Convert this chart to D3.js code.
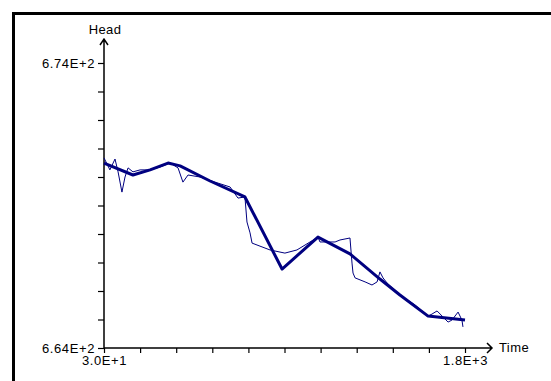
<!DOCTYPE html>
<html>
<head>
<meta charset="utf-8">
<script src="https://cdn.jsdelivr.net/npm/d3@7/dist/d3.min.js"></script>
<style>
  html, body { margin: 0; padding: 0; background: #fff; }
  svg { display: block; }
  text { font-family: "Liberation Sans", Arial, sans-serif; font-size: 13px; fill: #000; }
</style>
</head>
<body>
<svg id="chart" width="551" height="381"></svg>
<script>
// Observed head (thin trace)
const obsTime = [30, 59, 84, 99, 118, 133, 148, 172, 207, 256, 305, 354, 393, 417, 442, 501, 574, 648, 687, 721, 731, 746, 756, 844, 917, 976, 1079, 1089, 1163, 1187, 1236, 1246, 1251, 1261, 1310, 1344, 1369, 1383, 1398, 1418, 1481, 1555, 1619, 1638, 1663, 1692, 1717, 1736, 1766, 1785, 1790];
const obsHead = [670.67, 670.25, 670.63, 670.18, 669.47, 670.00, 670.32, 670.18, 670.25, 670.25, 670.35, 670.49, 670.32, 669.82, 670.07, 670.00, 669.82, 669.65, 669.26, 669.30, 668.42, 668.04, 667.68, 667.44, 667.33, 667.44, 667.89, 667.72, 667.72, 667.79, 667.86, 666.98, 666.63, 666.46, 666.32, 666.21, 666.32, 666.67, 666.46, 666.28, 665.86, 665.51, 665.12, 665.19, 665.30, 665.09, 664.91, 664.98, 665.26, 664.98, 664.74];

// Simulated head (thick trace)
const simTime = [30, 172, 256, 344, 403, 550, 721, 903, 1079, 1236, 1383, 1481, 1619, 1800];
const simHead = [670.49, 670.07, 670.25, 670.49, 670.39, 669.86, 669.30, 666.77, 667.89, 667.30, 666.42, 665.86, 665.12, 664.98];

// Axis extents and tick labels
const timeDomain = [30, 1800];
const headDomain = [664, 674];
const timeTickLabels = ["3.0E+1", "1.8E+3"];
const headTickLabels = ["6.64E+2", "6.74E+2"];
const xTitle = "Time";
const yTitle = "Head";

const svg = d3.select("#chart");
const color = "#000080";

// Outer frame
svg.append("rect")
  .attr("x", 13.5).attr("y", 13.5)
  .attr("width", 600).attr("height", 400)
  .attr("fill", "none").attr("stroke", "#000").attr("stroke-width", 3);

const x = d3.scaleLinear().domain(timeDomain).range([104, 465]);
const y = d3.scaleLinear().domain(headDomain).range([348, 63]);

const xTicks = d3.range(11).map(i => timeDomain[0] + i * (timeDomain[1] - timeDomain[0]) / 10);
const yTicks = d3.range(11).map(i => headDomain[0] + i * (headDomain[1] - headDomain[0]) / 10);

const xAxis = d3.axisBottom(x)
  .tickValues(xTicks)
  .tickSize(5).tickPadding(3)
  .tickFormat((d, i) => i === 0 ? timeTickLabels[0] : (i === xTicks.length - 1 ? timeTickLabels[1] : ""));
const yAxis = d3.axisLeft(y)
  .tickValues(yTicks)
  .tickSize(6).tickPadding(3)
  .tickFormat((d, i) => i === 0 ? headTickLabels[0] : (i === yTicks.length - 1 ? headTickLabels[1] : ""));

const gx = svg.append("g").attr("transform", `translate(0,${y(headDomain[0])})`).call(xAxis);
const gy = svg.append("g").attr("transform", `translate(${x(timeDomain[0])},0)`).call(yAxis);
[gx, gy].forEach(g => {
  g.select(".domain").remove();
  g.selectAll(".tick line").attr("stroke", "#000").attr("stroke-width", 1.2);
  g.selectAll(".tick text").attr("font-size", 13).attr("letter-spacing", "0.6px")
    .attr("font-family", "'Liberation Sans', Arial, sans-serif").attr("fill", "#000");
});

// Axis lines with open arrowheads
const x0 = x(timeDomain[0]), y0 = y(headDomain[0]);
const xEnd = 492, yEnd = 39;
svg.append("path")
  .attr("d", `M${x0},${y0}H${xEnd}M${xEnd - 5},${y0 - 5}L${xEnd},${y0}L${xEnd - 5},${y0 + 5}`)
  .attr("fill", "none").attr("stroke", "#000").attr("stroke-width", 1.5);
svg.append("path")
  .attr("d", `M${x0},${y0}V${yEnd}M${x0 - 4},${yEnd + 6}L${x0},${yEnd}L${x0 + 4},${yEnd + 6}`)
  .attr("fill", "none").attr("stroke", "#000").attr("stroke-width", 1.5);

svg.append("text").attr("x", xEnd + 7).attr("y", y0 + 4).attr("letter-spacing", "0.4px").text(xTitle);
svg.append("text").attr("x", x0 + 1).attr("y", 34).attr("text-anchor", "middle").attr("letter-spacing", "0.4px").text(yTitle);

const line = d3.line().x(d => x(d[0])).y(d => y(d[1]));

svg.append("path")
  .datum(obsTime.map((t, i) => [t, obsHead[i]]))
  .attr("d", line)
  .attr("fill", "none").attr("stroke", color).attr("stroke-width", 1);

svg.append("path")
  .datum(simTime.map((t, i) => [t, simHead[i]]))
  .attr("d", line)
  .attr("fill", "none").attr("stroke", color).attr("stroke-width", 3)
  .attr("stroke-linejoin", "round");
</script>
</body>
</html>
